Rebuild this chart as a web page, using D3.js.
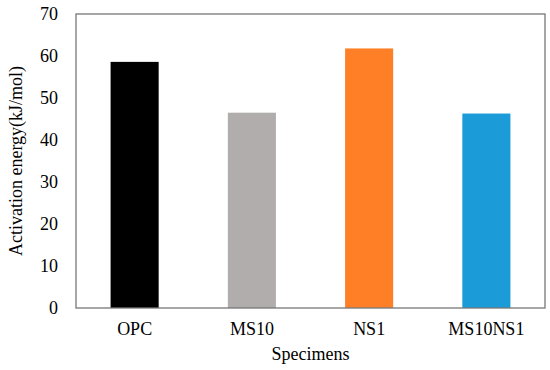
<!DOCTYPE html>
<html><head><meta charset="utf-8">
<script src="https://cdn.jsdelivr.net/npm/d3@7"></script>
<style>body{margin:0;background:#fff}svg{display:block}svg text{font-family:"Liberation Serif","Times New Roman",Times,"DejaVu Serif",serif !important;fill:#000;font-size:18px}</style>
</head><body>
<svg id="c" width="550" height="370"></svg>
<script>
const categories = ["OPC","MS10","NS1","MS10NS1"];
const values = [58.6, 46.5, 61.8, 46.3];
const colors = ["#000000","#b0adac","#ff7f27","#1b9bd7"];
const yTicks = [0,10,20,30,40,50,60,70];

const m = {l:76, r:5, t:14, b:62};
const W = 550, H = 370;
const svg = d3.select("#c");
const x = d3.scaleBand().domain(categories).range([m.l, W - m.r]).paddingInner(0.59).paddingOuter(0.295);
const y = d3.scaleLinear().domain([0,70]).range([H - m.b, m.t]);

svg.selectAll("rect.bar").data(categories).join("rect").attr("class","bar")
  .attr("x", d => x(d)).attr("width", x.bandwidth())
  .attr("y", (d,i) => y(values[i])).attr("height", (d,i) => y(0) - y(values[i]))
  .attr("fill", (d,i) => colors[i]);

svg.append("rect").attr("x", m.l).attr("y", m.t).attr("width", W - m.r - m.l).attr("height", H - m.b - m.t)
  .attr("fill","none").attr("stroke","#777").attr("stroke-width",1.3);

const ya = svg.append("g").attr("transform",`translate(${m.l},0)`)
  .call(d3.axisLeft(y).tickValues(yTicks).tickSize(0).tickPadding(18));
ya.select(".domain").remove();
ya.attr("font-family", null).attr("font-size", null);

const xa = svg.append("g").attr("transform",`translate(0,${H - m.b})`)
  .call(d3.axisBottom(x).tickSize(0).tickPadding(14));
xa.select(".domain").remove();
xa.attr("font-family", null).attr("font-size", null);

svg.append("text").attr("x", (m.l + W - m.r)/2).attr("y", 360).attr("text-anchor","middle")
  .text("Specimens");
svg.append("text").attr("transform",`translate(22,${(m.t + H - m.b)/2}) rotate(-90)`).attr("text-anchor","middle")
  .text("Activation energy(kJ/mol)");
</script>
</body></html>
